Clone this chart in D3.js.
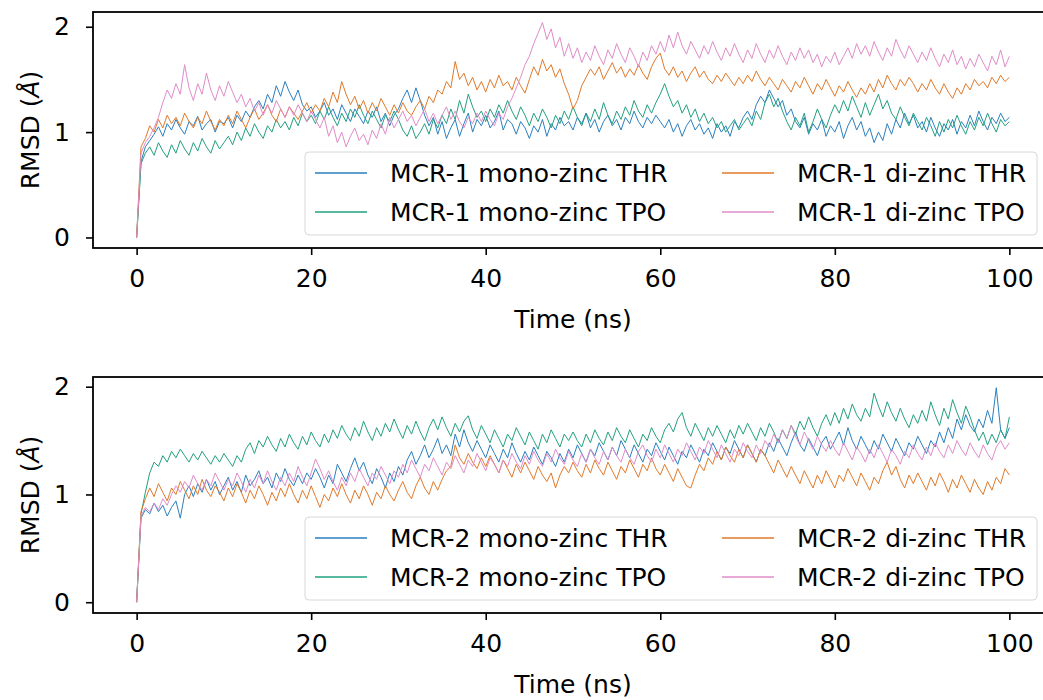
<!DOCTYPE html>
<html>
<head>
<meta charset="utf-8">
<script src="https://cdn.jsdelivr.net/npm/d3@7"></script>
<style>
  body { margin: 0; background: #fff; }
  svg { display: block; font-family: "DejaVu Sans", sans-serif; }
</style>
</head>
<body>
<div id="chart"></div>
<script>
// Sampling grid: one value every 0.5 ns from 0 to 100 ns
const TIME_STEP = 0.5;
const xTicks = [0, 20, 40, 60, 80, 100];
const yTicks = [0, 1, 2];

// MCR-1 panel
const mcr1MonoThr = [
  0, 0.72, 0.86, 0.92, 0.98, 1.05, 0.96, 1.08, 1.02, 1.12, 1.04, 0.98, 1.10, 1.06, 1.15, 1.02, 1.08, 1.12, 1.00, 1.10,
  1.08, 1.14, 1.04, 1.16, 1.10, 1.20, 1.14, 1.24, 1.30, 1.22, 1.36, 1.28, 1.44, 1.34, 1.48, 1.38, 1.30, 1.40, 1.26, 1.20,
  1.24, 1.14, 1.20, 1.28, 1.16, 1.22, 1.12, 1.26, 1.18, 1.10, 1.22, 1.15, 1.08, 1.20, 1.14, 1.24, 1.10, 1.18, 1.06, 1.16,
  1.22, 1.32, 1.40, 1.28, 1.42, 1.30, 1.16, 1.06, 1.14, 0.98, 1.10, 0.94, 1.04, 1.12, 0.96, 1.08, 1.18, 1.00, 1.12, 1.06,
  1.16, 1.04, 1.10, 1.20, 1.02, 1.12, 1.08, 0.98, 1.10, 1.04, 0.94, 1.06, 1.00, 1.12, 0.96, 1.08, 1.02, 1.14, 1.06, 1.10,
  1.02, 1.14, 1.08, 1.18, 1.04, 1.12, 1.00, 1.10, 1.16, 1.06, 1.12, 1.02, 1.14, 1.08, 1.20, 1.10, 1.04, 1.14, 1.08, 1.16,
  1.10, 1.04, 1.12, 1.00, 1.08, 0.96, 1.06, 1.12, 1.02, 1.08, 0.98, 1.04, 0.94, 1.08, 1.00, 1.06, 0.96, 1.10, 1.04, 1.14,
  1.20, 1.12, 1.26, 1.34, 1.28, 1.40, 1.32, 1.24, 1.30, 1.16, 1.22, 1.10, 1.04, 1.14, 0.98, 1.08, 1.02, 1.12, 0.96, 1.06,
  1.00, 1.10, 0.94, 1.06, 1.14, 1.02, 1.10, 0.96, 1.04, 0.90, 1.00, 0.92, 1.08, 0.98, 1.12, 1.04, 1.18, 1.08, 1.16, 1.04,
  1.10, 1.00, 1.14, 1.04, 0.96, 1.08, 1.02, 1.12, 0.98, 1.10, 1.04, 1.16, 1.06, 1.20, 1.10, 1.02, 1.14, 1.08, 1.18, 1.10,
  1.14
];
const mcr1MonoTpo = [
  0, 0.70, 0.80, 0.86, 0.78, 0.90, 0.82, 0.76, 0.88, 0.80, 0.92, 0.84, 0.78, 0.90, 0.82, 0.94, 0.86, 0.80, 0.92, 0.84,
  0.90, 0.96, 0.88, 1.00, 0.92, 1.04, 0.96, 1.08, 1.00, 0.94, 1.06, 1.00, 1.12, 1.04, 1.10, 1.02, 1.14, 1.06, 1.18, 1.10,
  1.16, 1.08, 1.20, 1.12, 1.24, 1.14, 1.06, 1.18, 1.10, 1.22, 1.14, 1.26, 1.16, 1.08, 1.20, 1.12, 1.04, 1.16, 1.10, 1.20,
  1.12, 1.02, 0.96, 1.06, 0.94, 1.00, 1.08, 0.98, 1.12, 1.04, 1.16, 1.08, 1.22, 1.12, 1.30, 1.18, 1.36, 1.24, 1.14, 1.20,
  1.10, 1.22, 1.14, 1.26, 1.18, 1.30, 1.20, 1.12, 1.24, 1.16, 1.06, 1.18, 1.10, 1.22, 1.14, 1.04, 1.16, 1.08, 1.20, 1.12,
  1.24, 1.14, 1.06, 1.18, 1.10, 1.22, 1.12, 1.28, 1.16, 1.08, 1.20, 1.12, 1.24, 1.16, 1.30, 1.20, 1.14, 1.26, 1.18, 1.28,
  1.36, 1.46, 1.34, 1.24, 1.30, 1.18, 1.26, 1.14, 1.22, 1.10, 1.18, 1.08, 1.14, 1.04, 1.10, 1.00, 1.06, 1.12, 1.02, 1.08,
  1.14, 1.06, 1.20, 1.12, 1.28, 1.36, 1.24, 1.32, 1.20, 1.10, 1.02, 1.14, 1.06, 1.18, 1.00, 1.10, 1.22, 1.12, 1.04, 1.16,
  1.26, 1.18, 1.30, 1.20, 1.34, 1.24, 1.14, 1.28, 1.16, 1.26, 1.36, 1.22, 1.30, 1.18, 1.12, 1.24, 1.14, 1.06, 1.18, 1.10,
  1.02, 1.14, 1.06, 0.96, 1.10, 1.00, 1.12, 1.04, 1.16, 1.06, 0.98, 1.10, 1.02, 1.14, 1.06, 1.18, 1.08, 1.00, 1.12, 1.06,
  1.10
];
const mcr1DiThr = [
  0, 0.86, 0.94, 1.06, 1.00, 1.12, 1.04, 1.16, 1.08, 1.14, 1.06, 1.18, 1.10, 1.04, 1.14, 1.08, 1.20, 1.10, 1.02, 1.12,
  1.06, 1.16, 1.08, 1.20, 1.12, 1.04, 1.14, 1.22, 1.12, 1.18, 1.26, 1.16, 1.10, 1.22, 1.14, 1.24, 1.18, 1.12, 1.20, 1.28,
  1.18, 1.26, 1.20, 1.32, 1.24, 1.38, 1.28, 1.48, 1.36, 1.26, 1.34, 1.22, 1.30, 1.18, 1.28, 1.20, 1.32, 1.24, 1.16, 1.26,
  1.18, 1.28, 1.20, 1.16, 1.24, 1.30, 1.22, 1.34, 1.28, 1.40, 1.36, 1.48, 1.42, 1.67, 1.50, 1.56, 1.44, 1.52, 1.40, 1.48,
  1.38, 1.50, 1.42, 1.54, 1.44, 1.48, 1.40, 1.52, 1.44, 1.37, 1.50, 1.62, 1.54, 1.69, 1.58, 1.64, 1.52, 1.60, 1.46, 1.36,
  1.22, 1.30, 1.44, 1.52, 1.60, 1.54, 1.62, 1.50, 1.58, 1.66, 1.56, 1.62, 1.52, 1.60, 1.54, 1.64, 1.56, 1.50, 1.62, 1.70,
  1.75, 1.60, 1.54, 1.62, 1.52, 1.58, 1.48, 1.56, 1.62, 1.52, 1.58, 1.50, 1.46, 1.54, 1.48, 1.56, 1.50, 1.44, 1.52, 1.46,
  1.54, 1.48, 1.58, 1.50, 1.44, 1.52, 1.46, 1.40, 1.50, 1.44, 1.38, 1.48, 1.42, 1.52, 1.44, 1.36, 1.46, 1.40, 1.50, 1.42,
  1.34, 1.44, 1.38, 1.48, 1.40, 1.33, 1.42, 1.36, 1.46, 1.38, 1.50, 1.42, 1.54, 1.46, 1.40, 1.50, 1.44, 1.52, 1.46, 1.38,
  1.46, 1.40, 1.50, 1.42, 1.36, 1.46, 1.38, 1.32, 1.42, 1.36, 1.46, 1.40, 1.50, 1.44, 1.48, 1.42, 1.52, 1.46, 1.54, 1.48,
  1.52
];
const mcr1DiTpo = [
  0, 0.80, 0.90, 0.96, 1.04, 1.14, 1.28, 1.40, 1.32, 1.46, 1.36, 1.64, 1.42, 1.30, 1.46, 1.36, 1.56, 1.40, 1.30, 1.44,
  1.34, 1.48, 1.38, 1.28, 1.36, 1.24, 1.32, 1.20, 1.28, 1.16, 1.26, 1.18, 1.30, 1.22, 1.14, 1.24, 1.16, 1.26, 1.18, 1.10,
  1.20, 1.12, 1.04, 1.14, 0.96, 1.06, 0.90, 1.00, 0.86, 0.96, 1.04, 0.92, 0.98, 0.88, 1.02, 0.94, 1.08, 0.98, 1.14, 1.04,
  1.12, 1.20, 1.10, 1.16, 1.06, 1.14, 1.22, 1.10, 1.18, 1.08, 1.16, 1.24, 1.12, 1.20, 1.10, 1.04, 1.14, 1.08, 1.18, 1.10,
  1.20, 1.12, 1.06, 1.18, 1.12, 1.24, 1.32, 1.42, 1.52, 1.64, 1.72, 1.84, 1.94, 2.04, 1.88, 1.98, 1.80, 1.90, 1.72, 1.84,
  1.70, 1.80, 1.66, 1.76, 1.68, 1.82, 1.72, 1.64, 1.78, 1.70, 1.84, 1.74, 1.66, 1.80, 1.72, 1.62, 1.76, 1.68, 1.82, 1.74,
  1.86, 1.76, 1.92, 1.80, 1.95, 1.82, 1.74, 1.86, 1.78, 1.70, 1.82, 1.74, 1.86, 1.76, 1.68, 1.80, 1.72, 1.84, 1.74, 1.66,
  1.78, 1.70, 1.84, 1.74, 1.66, 1.78, 1.70, 1.82, 1.72, 1.64, 1.76, 1.68, 1.80, 1.70, 1.78, 1.66, 1.74, 1.62, 1.72, 1.66,
  1.76, 1.64, 1.72, 1.80, 1.70, 1.84, 1.74, 1.82, 1.72, 1.86, 1.76, 1.68, 1.80, 1.72, 1.88, 1.78, 1.70, 1.82, 1.74, 1.66,
  1.76, 1.68, 1.80, 1.70, 1.62, 1.74, 1.66, 1.78, 1.64, 1.72, 1.60, 1.70, 1.62, 1.74, 1.66, 1.58, 1.72, 1.64, 1.78, 1.62,
  1.72
];

// MCR-2 panel
const mcr2MonoThr = [
  0, 0.78, 0.86, 0.82, 0.92, 0.84, 0.90, 0.80, 0.88, 0.94, 0.78, 1.00, 1.08, 0.98, 1.10, 1.02, 1.14, 1.04, 1.12, 1.00,
  1.08, 1.16, 1.04, 1.12, 1.02, 1.18, 1.08, 1.14, 1.22, 1.10, 1.16, 1.06, 1.20, 1.12, 1.24, 1.14, 1.08, 1.18, 1.10, 1.20,
  1.14, 1.24, 1.16, 1.06, 1.18, 1.10, 1.28, 1.20, 1.12, 1.24, 1.34, 1.22, 1.30, 1.18, 1.10, 1.24, 1.16, 1.06, 1.20, 1.12,
  1.26, 1.18, 1.32, 1.40, 1.28, 1.36, 1.46, 1.34, 1.42, 1.52, 1.38, 1.46, 1.36, 1.56, 1.44, 1.60, 1.48, 1.40, 1.50, 1.42,
  1.34, 1.46, 1.38, 1.30, 1.42, 1.34, 1.48, 1.38, 1.30, 1.40, 1.32, 1.44, 1.36, 1.28, 1.40, 1.34, 1.26, 1.38, 1.30, 1.42,
  1.34, 1.46, 1.38, 1.30, 1.42, 1.36, 1.48, 1.40, 1.32, 1.44, 1.36, 1.50, 1.42, 1.34, 1.46, 1.38, 1.30, 1.42, 1.36, 1.48,
  1.40, 1.32, 1.44, 1.36, 1.28, 1.40, 1.34, 1.46, 1.38, 1.30, 1.42, 1.36, 1.48, 1.40, 1.32, 1.44, 1.38, 1.50, 1.42, 1.34,
  1.46, 1.38, 1.30, 1.42, 1.36, 1.48, 1.40, 1.52, 1.44, 1.36, 1.48, 1.58, 1.46, 1.40, 1.52, 1.44, 1.36, 1.48, 1.54, 1.42,
  1.50, 1.58, 1.46, 1.62, 1.50, 1.42, 1.54, 1.46, 1.38, 1.50, 1.42, 1.56, 1.48, 1.40, 1.52, 1.44, 1.36, 1.48, 1.42, 1.54,
  1.46, 1.38, 1.50, 1.44, 1.58, 1.48, 1.62, 1.52, 1.70, 1.60, 1.74, 1.64, 1.58, 1.70, 1.62, 1.78, 1.66, 1.99, 1.60, 1.52,
  1.62
];
const mcr2MonoTpo = [
  0, 0.82, 1.02, 1.20, 1.30, 1.26, 1.36, 1.30, 1.40, 1.34, 1.42, 1.36, 1.30, 1.38, 1.32, 1.40, 1.34, 1.28, 1.36, 1.30,
  1.38, 1.32, 1.26, 1.36, 1.30, 1.42, 1.48, 1.38, 1.50, 1.44, 1.54, 1.46, 1.40, 1.52, 1.44, 1.56, 1.48, 1.42, 1.54, 1.46,
  1.58, 1.50, 1.44, 1.56, 1.48, 1.60, 1.52, 1.64, 1.56, 1.50, 1.62, 1.54, 1.68, 1.58, 1.50, 1.62, 1.54, 1.66, 1.58, 1.70,
  1.60, 1.52, 1.64, 1.56, 1.68, 1.58, 1.50, 1.62, 1.70, 1.60, 1.72, 1.62, 1.54, 1.66, 1.58, 1.68, 1.73, 1.60, 1.52, 1.64,
  1.56, 1.48, 1.60, 1.52, 1.44, 1.56, 1.50, 1.62, 1.54, 1.46, 1.58, 1.50, 1.42, 1.56, 1.48, 1.60, 1.52, 1.44, 1.56, 1.50,
  1.58, 1.50, 1.44, 1.56, 1.48, 1.60, 1.52, 1.46, 1.58, 1.50, 1.62, 1.54, 1.48, 1.60, 1.52, 1.44, 1.56, 1.50, 1.62, 1.54,
  1.48, 1.60, 1.66, 1.58, 1.70, 1.76, 1.62, 1.54, 1.66, 1.58, 1.50, 1.62, 1.54, 1.64, 1.56, 1.48, 1.60, 1.52, 1.64, 1.56,
  1.66, 1.58, 1.50, 1.62, 1.54, 1.66, 1.58, 1.48, 1.60, 1.52, 1.64, 1.56, 1.68, 1.60, 1.72, 1.62, 1.54, 1.66, 1.74, 1.64,
  1.76, 1.66, 1.80, 1.70, 1.84, 1.74, 1.68, 1.80, 1.72, 1.94, 1.82, 1.72, 1.86, 1.76, 1.68, 1.80, 1.70, 1.62, 1.74, 1.66,
  1.78, 1.68, 1.86, 1.74, 1.64, 1.80, 1.70, 1.88, 1.76, 1.66, 1.82, 1.72, 1.60, 1.50, 1.58, 1.46, 1.56, 1.48, 1.60, 1.52,
  1.72
];
const mcr2DiThr = [
  0, 0.84, 0.96, 1.06, 0.98, 1.10, 1.02, 0.94, 1.06, 1.00, 1.12, 1.04, 0.96, 1.08, 1.00, 1.14, 1.04, 0.98, 1.08, 1.02,
  0.94, 1.06, 0.98, 1.10, 1.02, 0.92, 1.04, 0.96, 1.08, 1.00, 0.90, 1.02, 0.94, 1.06, 0.98, 1.10, 1.00, 0.92, 1.04, 0.96,
  1.08, 0.98, 0.88, 1.00, 0.94, 1.06, 0.98, 1.10, 1.00, 0.92, 1.04, 0.96, 1.08, 1.00, 0.90, 1.02, 0.96, 1.08, 1.00, 0.94,
  1.04, 1.12, 1.02, 0.96, 1.08, 1.16, 1.06, 1.00, 1.12, 1.04, 1.14, 1.22, 1.26, 1.46, 1.34, 1.28, 1.38, 1.30, 1.24, 1.34,
  1.26, 1.36, 1.28, 1.20, 1.32, 1.24, 1.16, 1.28, 1.20, 1.30, 1.22, 1.14, 1.26, 1.18, 1.12, 1.20, 1.06, 1.18, 1.26, 1.20,
  1.30, 1.22, 1.16, 1.28, 1.20, 1.32, 1.24, 1.18, 1.30, 1.22, 1.14, 1.26, 1.20, 1.32, 1.24, 1.16, 1.28, 1.22, 1.34, 1.24,
  1.18, 1.28, 1.20, 1.12, 1.24, 1.16, 1.08, 1.06, 1.18, 1.28, 1.22, 1.34, 1.28, 1.40, 1.32, 1.44, 1.36, 1.30, 1.42, 1.34,
  1.46, 1.38, 1.30, 1.42, 1.36, 1.28, 1.20, 1.32, 1.24, 1.16, 1.26, 1.18, 1.10, 1.22, 1.14, 1.06, 1.18, 1.10, 1.22, 1.14,
  1.06, 1.18, 1.12, 1.24, 1.16, 1.08, 1.20, 1.12, 1.04, 1.16, 1.10, 1.22, 1.30, 1.18, 1.26, 1.14, 1.06, 1.18, 1.10, 1.20,
  1.12, 1.04, 1.16, 1.08, 1.20, 1.12, 1.02, 1.14, 1.06, 1.18, 1.10, 1.02, 1.14, 1.06, 1.00, 1.12, 1.04, 1.16, 1.10, 1.24,
  1.18
];
const mcr2DiTpo = [
  0, 0.80, 0.88, 0.84, 0.92, 0.86, 0.96, 0.90, 1.00, 1.08, 1.02, 1.12, 1.06, 1.18, 1.10, 1.04, 1.14, 1.08, 1.20, 1.12,
  1.04, 1.14, 1.08, 1.20, 1.12, 1.02, 1.14, 1.06, 1.18, 1.10, 1.22, 1.12, 1.04, 1.16, 1.08, 1.20, 1.12, 1.26, 1.16, 1.08,
  1.20, 1.33, 1.24, 1.14, 1.22, 1.12, 1.04, 1.16, 1.08, 1.20, 1.12, 1.24, 1.16, 1.08, 1.20, 1.14, 1.26, 1.18, 1.10, 1.22,
  1.16, 1.28, 1.20, 1.32, 1.24, 1.16, 1.28, 1.22, 1.34, 1.26, 1.18, 1.30, 1.24, 1.36, 1.28, 1.20, 1.32, 1.26, 1.38, 1.30,
  1.22, 1.34, 1.28, 1.20, 1.32, 1.26, 1.38, 1.30, 1.24, 1.36, 1.28, 1.40, 1.32, 1.26, 1.38, 1.30, 1.42, 1.34, 1.28, 1.40,
  1.32, 1.26, 1.38, 1.30, 1.42, 1.34, 1.28, 1.40, 1.32, 1.44, 1.36, 1.30, 1.42, 1.34, 1.28, 1.40, 1.46, 1.36, 1.30, 1.42,
  1.34, 1.46, 1.38, 1.30, 1.42, 1.36, 1.48, 1.40, 1.32, 1.44, 1.38, 1.50, 1.42, 1.34, 1.46, 1.38, 1.30, 1.42, 1.36, 1.48,
  1.40, 1.34, 1.46, 1.38, 1.50, 1.44, 1.56, 1.48, 1.60, 1.52, 1.64, 1.54, 1.46, 1.58, 1.50, 1.42, 1.54, 1.46, 1.40, 1.50,
  1.42, 1.36, 1.48, 1.40, 1.32, 1.44, 1.38, 1.30, 1.42, 1.34, 1.46, 1.38, 1.30, 1.42, 1.36, 1.28, 1.40, 1.34, 1.46, 1.38,
  1.32, 1.44, 1.36, 1.48, 1.40, 1.34, 1.46, 1.38, 1.50, 1.42, 1.36, 1.48, 1.40, 1.34, 1.46, 1.38, 1.32, 1.44, 1.50, 1.42,
  1.48
];

const colors = { monoThr: "#2a7fbf", monoTpo: "#22a080", diThr: "#e0792a", diTpo: "#e08cc8" };

const panels = [
  {
    top: 12, bottom: 248, yMax: 2.14,
    series: [
      { label: "MCR-1 mono-zinc THR", values: mcr1MonoThr, color: colors.monoThr },
      { label: "MCR-1 mono-zinc TPO", values: mcr1MonoTpo, color: colors.monoTpo },
      { label: "MCR-1 di-zinc THR", values: mcr1DiThr, color: colors.diThr },
      { label: "MCR-1 di-zinc TPO", values: mcr1DiTpo, color: colors.diTpo }
    ]
  },
  {
    top: 377, bottom: 613, yMax: 2.09,
    series: [
      { label: "MCR-2 mono-zinc THR", values: mcr2MonoThr, color: colors.monoThr },
      { label: "MCR-2 mono-zinc TPO", values: mcr2MonoTpo, color: colors.monoTpo },
      { label: "MCR-2 di-zinc THR", values: mcr2DiThr, color: colors.diThr },
      { label: "MCR-2 di-zinc TPO", values: mcr2DiTpo, color: colors.diTpo }
    ]
  }
];

const W = 1043, H = 700;
const left = 93, right = 1053;   // right spine falls just outside the picture
const fontSize = 25;

const svg = d3.select("#chart").append("svg")
  .attr("width", W)
  .attr("height", H);

panels.forEach((p) => {
  const x = d3.scaleLinear().domain([-5, 105]).range([left, right]);
  const y = d3.scaleLinear().domain([-0.1, p.yMax]).range([p.bottom, p.top]);

  const g = svg.append("g");

  // Series lines
  const line = d3.line()
    .x((d, i) => x(i * TIME_STEP))
    .y(d => y(d));

  p.series.forEach((s) => {
    g.append("path")
      .datum(s.values)
      .attr("d", line)
      .attr("fill", "none")
      .attr("stroke", s.color)
      .attr("stroke-width", 1)
      .attr("stroke-linejoin", "round");
  });

  // Axes
  const xAxis = g.append("g")
    .attr("transform", `translate(0,${p.bottom})`)
    .call(d3.axisBottom(x).tickValues(xTicks).tickFormat(d3.format("d"))
      .tickSize(7).tickPadding(14).tickSizeOuter(0));
  const yAxis = g.append("g")
    .attr("transform", `translate(${left},0)`)
    .call(d3.axisLeft(y).tickValues(yTicks).tickFormat(d3.format("d"))
      .tickSize(7).tickPadding(16).tickSizeOuter(0));

  [xAxis, yAxis].forEach(a => {
    a.select(".domain").remove();
    a.selectAll(".tick line").attr("stroke", "#000").attr("stroke-width", 1.6);
    a.selectAll(".tick text")
      .attr("fill", "#000")
      .style("font-size", fontSize + "px")
      .style("font-family", "DejaVu Sans, sans-serif");
  });

  // Frame
  g.append("rect")
    .attr("x", left)
    .attr("y", p.top)
    .attr("width", right - left)
    .attr("height", p.bottom - p.top)
    .attr("fill", "none")
    .attr("stroke", "#000")
    .attr("stroke-width", 1.8);

  // Axis labels
  g.append("text")
    .attr("x", (left + right) / 2)
    .attr("y", p.bottom + 80)
    .attr("text-anchor", "middle")
    .style("font-size", fontSize + "px")
    .text("Time (ns)");

  const yl = g.append("text")
    .attr("transform", `translate(39,${(p.top + p.bottom) / 2}) rotate(-90)`)
    .attr("text-anchor", "middle")
    .style("font-size", fontSize + "px");
  yl.append("tspan").text("RMSD (");
  yl.append("tspan").style("font-style", "italic").text("Å");
  yl.append("tspan").text(")");

  // Legend, two columns, filled column by column
  const lg = g.append("g");
  const boxX = 305, boxY = p.bottom - 96, boxW = 732, boxH = 83;
  lg.append("rect")
    .attr("x", boxX).attr("y", boxY)
    .attr("width", boxW).attr("height", boxH)
    .attr("rx", 4)
    .attr("fill", "#fff").attr("fill-opacity", 0.8)
    .attr("stroke", "#d8d8d8");

  p.series.forEach((s, i) => {
    const col = Math.floor(i / 2), row = i % 2;
    const hx = boxX + 10 + col * 407;
    const hy = boxY + 21 + row * 39;
    lg.append("line")
      .attr("x1", hx).attr("x2", hx + 52)
      .attr("y1", hy).attr("y2", hy)
      .attr("stroke", s.color)
      .attr("stroke-width", 1.5);
    lg.append("text")
      .attr("x", hx + 75)
      .attr("y", hy)
      .attr("dy", "0.35em")
      .style("font-size", fontSize + "px")
      .text(s.label);
  });
});
</script>
</body>
</html>
